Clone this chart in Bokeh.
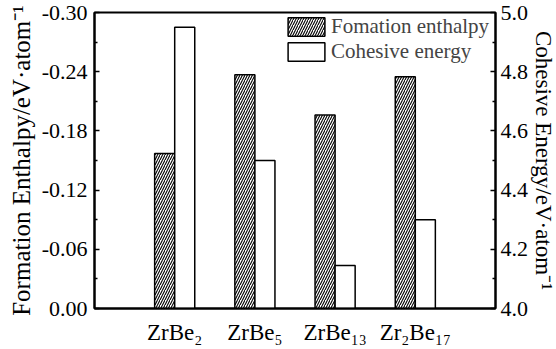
from bokeh.plotting import figure
from bokeh.models import (Range1d, LinearAxis, FixedTicker, NumeralTickFormatter,
                          Legend, LegendItem)
from bokeh.embed import file_html
from bokeh.resources import INLINE

# Compounds and their computed energies
compounds = ["ZrBe₂", "ZrBe₅", "ZrBe₁₃", "Zr₂Be₁₇"]
formation_enthalpy = [-0.157, -0.237, -0.196, -0.235]   # eV/atom
cohesive_energy = [4.95, 4.50, 4.145, 4.30]             # eV/atom

enthalpy_ticks = [0.0, -0.06, -0.12, -0.18, -0.24, -0.30]
enthalpy_minor = [-0.03, -0.09, -0.15, -0.21, -0.27]
cohesive_ticks = [4.0, 4.2, 4.4, 4.6, 4.8, 5.0]
cohesive_minor = [4.1, 4.3, 4.5, 4.7, 4.9]

FONT = "Liberation Serif"
positions = [i + 1 for i in range(len(compounds))]
bar_w = 0.25

p = figure(frame_width=401, frame_height=296, output_backend="svg",
           toolbar_location=None,
           x_range=Range1d(0, 5), y_range=Range1d(0, -0.30),
           min_border_left=94, min_border_right=55, min_border_top=12,
           min_border_bottom=41)
p.extra_y_ranges = {"coh": Range1d(4.0, 5.0)}
p.grid.visible = False
p.outline_line_color = "black"
p.outline_line_width = 2
p.background_fill_color = "white"
p.border_fill_color = "white"

# Formation enthalpy bars (hatched), left half of each group
r1 = p.vbar(x=[x - bar_w / 2 for x in positions], width=bar_w, top=formation_enthalpy,
            bottom=0, fill_color="white", line_color="black", line_width=1.5,
            hatch_pattern="/", hatch_color="black", hatch_weight=1.1, hatch_scale=5)
# Cohesive energy bars (open), right half of each group
r2 = p.vbar(x=[x + bar_w / 2 for x in positions], width=bar_w, top=cohesive_energy,
            bottom=4.0, y_range_name="coh", fill_color="white", line_color="black",
            line_width=1.5)

# Bottom axis with compound names
xa = p.xaxis[0]
xa.ticker = FixedTicker(ticks=positions)
xa.major_label_overrides = {pos: name for pos, name in zip(positions, compounds)}
xa.major_tick_line_color = None
xa.minor_tick_line_color = None
xa.axis_line_width = 2
xa.major_label_text_font = FONT
xa.major_label_text_font_size = "23px"
xa.major_label_text_color = "black"
xa.major_label_standoff = 5

# Left axis: formation enthalpy
ya = p.yaxis[0]
ya.ticker = FixedTicker(ticks=enthalpy_ticks, minor_ticks=enthalpy_minor)
ya.formatter = NumeralTickFormatter(format="0.00")
ya.axis_label = "Formation Enthalpy/eV·atom⁻¹"

# Right axis: cohesive energy
ra = LinearAxis(y_range_name="coh", axis_label="Cohesive Energy/eV·atom⁻¹")
ra.ticker = FixedTicker(ticks=cohesive_ticks, minor_ticks=cohesive_minor)
ra.formatter = NumeralTickFormatter(format="0.0")
p.add_layout(ra, "right")

for ax in (ya, ra):
    ax.axis_line_width = 2
    ax.major_tick_in = 5
    ax.major_tick_out = 0
    ax.minor_tick_in = 3
    ax.minor_tick_out = 0
    ax.major_tick_line_width = 1.5
    ax.minor_tick_line_width = 1.5
    ax.major_label_text_font = FONT
    ax.major_label_text_font_size = "22px"
    ax.major_label_text_color = "black"
    ax.axis_label_text_font = FONT
    ax.axis_label_text_font_style = "normal"
    ax.axis_label_text_color = "black"

ya.axis_label_text_font_size = "25px"
ra.axis_label_text_font_size = "23px"
ya.major_label_standoff = 7
ya.axis_label_standoff = 4
ra.major_label_standoff = 5
ra.axis_label_standoff = 0

legend = Legend(items=[LegendItem(label="Fomation enthalpy", renderers=[r1]),
                       LegendItem(label="Cohesive energy", renderers=[r2])],
                location=(189, 244), orientation="vertical")
legend.glyph_width = 46
legend.glyph_height = 23
legend.label_height = 21
legend.spacing = 0
legend.padding = 0
legend.margin = 0
legend.border_line_color = None
legend.background_fill_alpha = 0
legend.label_text_font = FONT
legend.label_text_font_size = "21px"
legend.label_standoff = 2
p.add_layout(legend, "center")

open("out.html", "w").write(file_html(p, INLINE))
